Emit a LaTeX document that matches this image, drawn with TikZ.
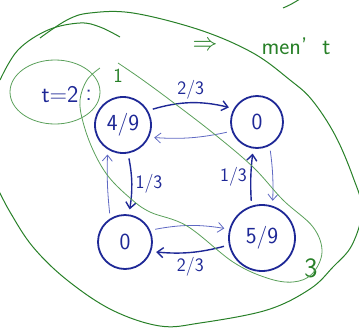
\documentclass[tikz,border=0pt]{standalone}
\usepackage{amsmath,amssymb}
\usepackage{tikz}
\usetikzlibrary{arrows.meta,positioning,calc}
\definecolor{penblue}{RGB}{30, 40, 150}
\definecolor{lightblue}{RGB}{95, 105, 195}
\definecolor{pengreen}{RGB}{40, 128, 40}
\definecolor{lightgreen}{RGB}{90, 160, 90}

\begin{document}
\begin{tikzpicture}[
    x=1pt, y=-1pt,
    state/.style={circle, draw=penblue, line width=1.8pt, inner sep=0pt, text=penblue, font=\sffamily\fontsize{23}{26}\selectfont},
    arr/.style={-{Straight Barb[length=6pt,width=10pt]}, line width=1.4pt, penblue, shorten <=5pt, shorten >=5pt},
    back/.style={arr, line width=0.8pt, lightblue},
    lbl/.style={font=\sffamily\fontsize{19}{22}\selectfont, text=penblue},
    grn/.style={line width=1pt, pengreen},
    grnlight/.style={line width=0.8pt, lightgreen},
    note/.style={font=\sffamily\fontsize{24}{26}\selectfont, text=pengreen},
]
\useasboundingbox (0,0) rectangle (359,327);
\clip (0,0) rectangle (359,327);

% the four states
\node[state, minimum size=56pt] (s49) at (123,125) {4/9};
\node[state, minimum size=52pt] (sa) at (257,122) {0};
\node[state, minimum size=54pt] (sb) at (125,242) {0};
\node[state, minimum size=66pt] (s59) at (262,238) {5/9};

% transitions
\draw[arr] (s49.30) to[bend left=15] node[above,lbl] {2/3} (sa.150);
\draw[back] (sa.200) to[bend left=8] (s49.-25);
\draw[arr] (s49.-80) to[bend left=10] node[right,lbl] {1/3} (sb.82);
\draw[back] (sb.122) to[bend left=4] (s49.238);
\draw[back] (sb.25) to[bend left=10] (s59.165);
\draw[arr] (s59.192) to[bend left=10] node[below=1pt,lbl] {2/3} (sb.-20);
\draw[arr] (s59.108) to[bend left=5] node[left,lbl] {1/3} (sa.-98);
\draw[back] (sa.-62) to[bend left=5] (s59.72);

% time step
\node[lbl, font=\sffamily\fontsize{24}{26}\selectfont] (t) at (60,95) {t=2};
\node[lbl, font=\sffamily\fontsize{24}{26}\selectfont, right=0pt of t] (colon) {:};
\node[note, font=\sffamily\fontsize{20}{22}\selectfont] (one) at (118,76) {1};
\node[note, font=\sffamily\fontsize{28}{30}\selectfont] (three) at (311,268) {3};
\node[note, font=\fontsize{30}{30}\selectfont] (impl) at (205,46) {$\Rightarrow$};
\node[note, anchor=west] (word) at (258,46) {men'\ \ t};

% green loops
\draw[grnlight] (55,92) ellipse [x radius=45, y radius=32];
\draw[grnlight] plot[smooth, tension=0.6] coordinates {(118,63) (140,78) (170,100) (213,133) (253,167) (283,200) (313,227) (322,252) (312,274) (293,282) (267,278) (233,262) (187,226) (150,212) (130,198) (108,176) (93,150) (83,122) (80,100) (87,80) (100,68)};
\draw[grn] plot[smooth, tension=0.6] coordinates {(0,80) (18,50) (48,30) (80,23) (100,27) (120,37)};
\draw[grn] plot[smooth, tension=0.6] coordinates {(40,38) (67,20) (90,13) (133,13) (200,30) (253,53) (290,80) (312,100) (335,135) (353,177) (362,210) (352,245) (333,267) (310,289) (267,310) (200,323) (160,326) (112,310) (67,280) (33,247) (10,212) (-4,185)};
\draw[grn] (283,8) .. controls (290,5) .. (300,-1);
\end{tikzpicture}
\end{document}
